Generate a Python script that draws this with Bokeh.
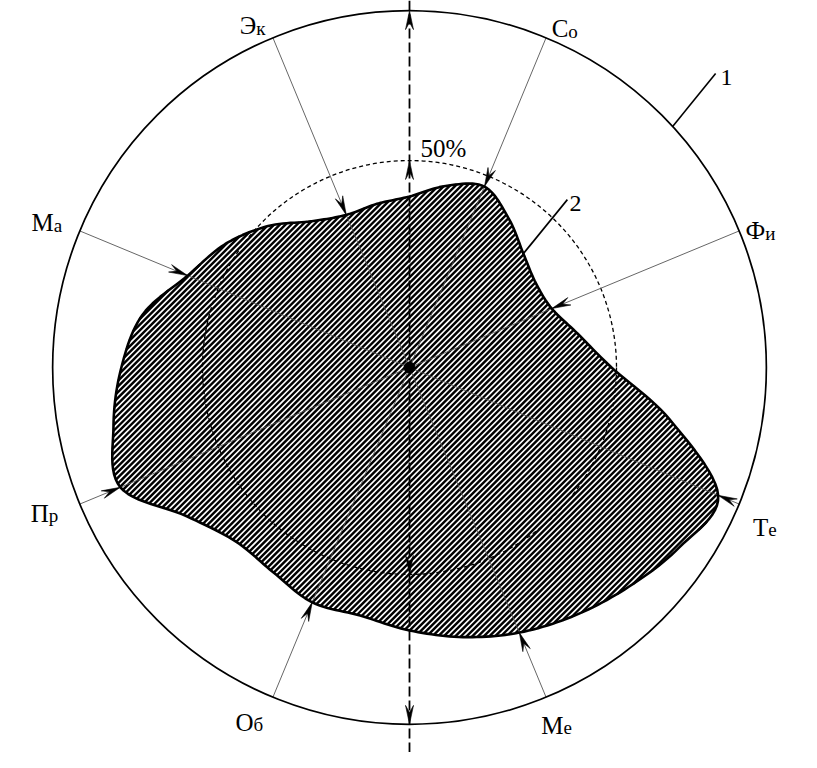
import numpy as np
from bokeh.plotting import figure
from bokeh.models import Span, ColumnDataSource
from bokeh.core.properties import value
from bokeh.embed import file_html
from bokeh.resources import INLINE

# ---------------- data ----------------
# axis labels (main letter, subscript), clockwise from the top
AXIS_MAIN = ["Э", "С", "Ф", "Т", "М", "О", "П", "М"]
AXIS_SUB = ["к", "о", "и", "е", "е", "б", "р", "а"]
AXIS_ANGLE = [337.5, 22.5, 67.5, 112.5, 157.5, 202.5, 247.5, 292.5]   # deg, clockwise from up
AXIS_VALUE = [39.9, 47.3, 37.2, 80.7, 69.3, 61.4, 75.6, 58.0]          # % (arrow tips on profile)

# profile outline (curve 2), read every 11.25 deg, in %
PROFILE_ANGLE = [0, 11.25, 22.5, 33.75, 45, 56.25, 67.5, 78.75, 90, 101.25, 112.5, 123.75,
                 135, 146.25, 157.5, 168.75, 180, 191.25, 202.5, 213.75, 225, 236.25,
                 247.5, 258.75, 270, 281.25, 292.5, 303.75, 315, 326.25, 337.5, 348.75]
PROFILE_VALUE = [41.3, 44.7, 47.3, 43.2, 38.9, 36.7, 37.2, 41.5, 48.8, 64.0, 80.7, 78.3,
                 74.9, 72.0, 69.3, 66.4, 63.5, 61.1, 61.4, 59.4, 59.4, 64.7,
                 75.6, 72.9, 69.6, 65.7, 58.0, 53.6, 48.3, 42.5, 39.9, 40.3]

HALF_LEVEL = 50.0     # dashed circle "50%"
OUTER_LEVEL = 86.2    # outer circle (1)

# ---------------- layout ----------------
W, H = 801, 752
CX, CY = 409, 367          # centre in figure pixels
S = 207.0 / 50.0           # pixels per %

FONT = "Liberation Serif"

p = figure(width=W, height=H, output_backend="svg", toolbar_location=None,
           x_range=(-CX / S, (W - CX) / S), y_range=(-(H - CY) / S, CY / S),
           min_border=0, background_fill_color="white", border_fill_color="white")
p.axis.visible = False
p.grid.visible = False
p.outline_line_color = None


def polar(a_deg, r):
    a = np.radians(np.asarray(a_deg, dtype=float))
    r = np.asarray(r, dtype=float)
    return r * np.sin(a), r * np.cos(a)


# ---- smooth closed profile (Catmull-Rom through the read points) ----
px, py = polar(PROFILE_ANGLE, PROFILE_VALUE)
n = len(px)
xs, ys = [], []
for i in range(n):
    p0 = np.array([px[(i - 1) % n], py[(i - 1) % n]])
    p1 = np.array([px[i], py[i]])
    p2 = np.array([px[(i + 1) % n], py[(i + 1) % n]])
    p3 = np.array([px[(i + 2) % n], py[(i + 2) % n]])
    for t in np.linspace(0, 1, 12, endpoint=False):
        t2, t3 = t * t, t * t * t
        pt = 0.5 * ((2 * p1) + (-p0 + p2) * t + (2 * p0 - 5 * p1 + 4 * p2 - p3) * t2
                    + (-p0 + 3 * p1 - 3 * p2 + p3) * t3)
        xs.append(pt[0])
        ys.append(pt[1])
xs = np.array(xs)
ys = np.array(ys)

p.patch(xs, ys, fill_color="white", line_color=None)

# ---- 45 degree hatching clipped to the profile ----
step = 5.7 / S
u = xs - ys
hx0, hy0, hx1, hy1 = [], [], [], []
m = len(xs)
for c in np.arange(u.min() + step / 2, u.max(), step):
    pts = []
    for i in range(m):
        j = (i + 1) % m
        a, b = u[i] - c, u[j] - c
        if (a < 0) != (b < 0):
            t = a / (a - b)
            pts.append((xs[i] + t * (xs[j] - xs[i]), ys[i] + t * (ys[j] - ys[i])))
    pts.sort()
    for k in range(0, len(pts) - 1, 2):
        hx0.append(pts[k][0]); hy0.append(pts[k][1])
        hx1.append(pts[k + 1][0]); hy1.append(pts[k + 1][1])
p.segment(x0=hx0, y0=hy0, x1=hx1, y1=hy1, line_color="black", line_width=2.4)

# ---- dashed 50 % circle ----
p.circle(x=[0], y=[0], radius=HALF_LEVEL, fill_color=None, line_color="black",
         line_width=1.3, line_dash="4 3")

# ---- spokes ----
ox, oy = polar(AXIS_ANGLE, [OUTER_LEVEL] * len(AXIS_ANGLE))
p.segment(x0=[0] * len(ox), y0=[0] * len(oy), x1=ox, y1=oy, line_color="#555555", line_width=0.9)

# ---- vertical dashed axis ----
p.add_layout(Span(location=0, dimension="height", line_color="black", line_width=1.8,
                  line_dash="10 4"))

# ---- profile outline ----
p.line(np.append(xs, xs[0]), np.append(ys, ys[0]), line_color="black", line_width=2.6,
       line_join="round")


# ---- arrow heads ----
def head(tip_x, tip_y, dx, dy, L=19.0, Wd=8.0):
    d = np.array([dx, dy]) / np.hypot(dx, dy)
    nrm = np.array([-d[1], d[0]])
    L, Wd = L / S, Wd / S
    t = np.array([tip_x, tip_y])
    a = t - L * d + 0.5 * Wd * nrm
    b = t - 0.62 * L * d
    c = t - L * d - 0.5 * Wd * nrm
    return [t[0], a[0], b[0], c[0]], [t[1], a[1], b[1], c[1]]


ahx, ahy = [], []
tx, ty = polar(AXIS_ANGLE, AXIS_VALUE)
for x1, y1 in zip(tx, ty):
    X, Y = head(x1, y1, -x1, -y1)
    ahx.append(X)
    ahy.append(Y)
for lvl in (HALF_LEVEL, OUTER_LEVEL):
    X, Y = head(0, lvl, 0, 1)
    ahx.append(X); ahy.append(Y)
    X, Y = head(0, -lvl, 0, -1)
    ahx.append(X); ahy.append(Y)
p.patches(ahx, ahy, fill_color="black", line_color="black", line_width=0.6)

# ---- centre ----
p.scatter(x=[0], y=[0], size=11, color="black")

# ---- outer circle ----
p.circle(x=[0], y=[0], radius=OUTER_LEVEL, fill_color=None, line_color="black", line_width=1.7)

# ---- leaders 1 and 2 ----
l1x, l1y = polar([47.5], [OUTER_LEVEL])
p.segment(x0=l1x, y0=l1y, x1=l1x + 43 / S, y1=l1y + 53 / S, line_color="black", line_width=1.6)
p.text(x=l1x + 48 / S, y=l1y + 49 / S, text=["1"], text_font_size="24px",
       text_font=value(FONT), text_baseline="alphabetic", text_align="left")

l2x, l2y = polar([45], [PROFILE_VALUE[4]])
p.segment(x0=l2x, y0=l2y, x1=l2x + 44 / S, y1=l2y + 54 / S, line_color="black", line_width=1.6)
p.text(x=l2x + 46 / S, y=l2y + 50 / S, text=["2"], text_font_size="24px",
       text_font=value(FONT), text_baseline="alphabetic", text_align="left")

# ---- 50 % label ----
p.text(x=[11 / S], y=[HALF_LEVEL + 12 / S], text=["50%"], text_font_size="25px",
       text_font=value(FONT), text_baseline="alphabetic", text_align="left")

# ---- axis labels ----
LABEL_DX = [-16.8, 22.3, 26.0, 29.0, 17.4, -19.4, -31.0, -26.0]   # px from spoke end
LABEL_DY = [12.2, 9.2, 0.0, -23.4, -28.0, -25.0, -9.4, 8.0]      # px (up positive)
lx = ox + np.array(LABEL_DX) / S
ly = oy + np.array(LABEL_DY) / S
src = ColumnDataSource(dict(x=lx, y=ly, ys=ly - 2.5 / S, main=AXIS_MAIN, sub=AXIS_SUB))
p.text(x="x", y="y", text="main", source=src, text_font_size="25px", text_font=value(FONT),
       text_align="right", text_baseline="alphabetic")
p.text(x="x", y="ys", text="sub", source=src, text_font_size="19px", text_font=value(FONT),
       text_align="left", text_baseline="alphabetic")

open("out.html", "w").write(file_html(p, INLINE))
